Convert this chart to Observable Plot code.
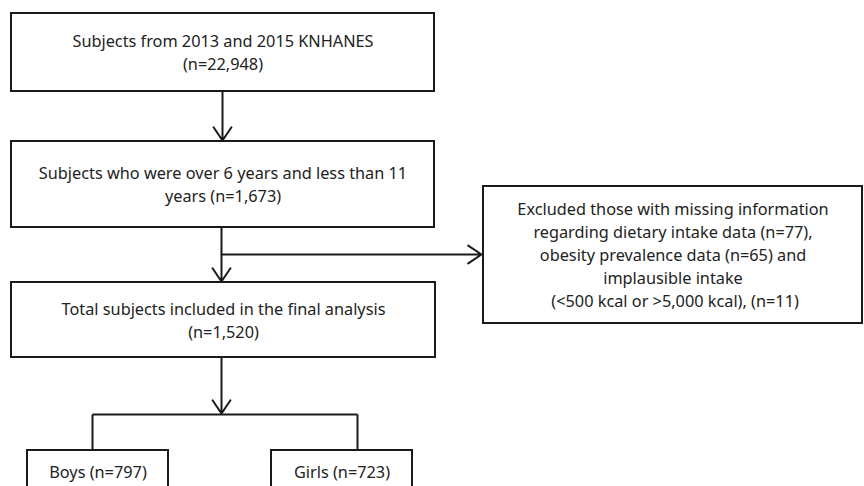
<!DOCTYPE html>
<html>
<head>
<meta charset="utf-8">
<script src="https://cdn.jsdelivr.net/npm/d3@7"></script>
<script src="https://cdn.jsdelivr.net/npm/@observablehq/plot@0.6"></script>
<style>
  html, body { margin: 0; padding: 0; background: #fff; }
  svg { display: block; }
</style>
</head>
<body>
<div id="chart"></div>
<script>
// Flowchart boxes (label lines and box extents in pixel space)
const boxNames = ["source", "age", "final", "excluded", "boys", "girls"];
const boxLabels = [
  ["Subjects from 2013 and 2015 KNHANES", "(n=22,948)"],
  ["Subjects who were over 6 years and less than 11", "years (n=1,673)"],
  ["Total subjects included in the final analysis", "(n=1,520)"],
  ["Excluded those with missing information", "regarding dietary intake data (n=77),", "obesity prevalence data (n=65) and", "implausible intake", " (<500 kcal or >5,000 kcal), (n=11)"],
  ["Boys (n=797)"],
  ["Girls (n=723)"]
];
const boxX1 = [11, 11, 11, 483, 27, 271];
const boxX2 = [434, 434, 435, 862, 168, 412];
const boxY1 = [13, 141, 282, 186, 450, 450];
const boxY2 = [91, 227, 357, 323, 500, 500];

// Connectors
const arrowsFrom = [[222, 91], [221, 227], [221, 254], [221, 357]];
const arrowsTo   = [[222, 140], [221, 281], [481, 254], [221, 413]];
const linesFrom  = [[92, 414], [92, 414], [357, 414]];
const linesTo    = [[357, 414], [92, 450], [357, 450]];

const boxes = boxNames.map((name, i) => ({
  name, x1: boxX1[i], x2: boxX2[i], y1: boxY1[i], y2: boxY2[i], lines: boxLabels[i]
}));

const lineH = 23;
const textRows = boxes.flatMap(b => {
  const n = b.lines.length;
  const cy = b.name === "boys" || b.name === "girls" ? 472 : (b.y1 + b.y2) / 2 + 1;
  return b.lines.map((t, j) => ({ text: t, x: (b.x1 + b.x2) / 2, y: cy + (j - (n - 1) / 2) * lineH }));
});

const arrows = arrowsFrom.map((f, i) => ({ x1: f[0], y1: f[1], x2: arrowsTo[i][0], y2: arrowsTo[i][1] }));
const lines = linesFrom.map((f, i) => ({ x1: f[0], y1: f[1], x2: linesTo[i][0], y2: linesTo[i][1] }));

const chart = Plot.plot({
  width: 864,
  height: 486,
  margin: 0,
  x: { domain: [0, 864], axis: null },
  y: { domain: [0, 486], axis: null, reverse: true },
  style: { fontFamily: "'Noto Sans', sans-serif", background: "#fff" },
  marks: [
    Plot.rect(boxes, { x1: "x1", x2: "x2", y1: "y1", y2: "y2", fill: "#fff", stroke: "#1a1a1a", strokeWidth: 2 }),
    Plot.link(lines, { x1: "x1", y1: "y1", x2: "x2", y2: "y2", stroke: "#1a1a1a", strokeWidth: 2 }),
    Plot.arrow(arrows, { x1: "x1", y1: "y1", x2: "x2", y2: "y2", stroke: "#1a1a1a", strokeWidth: 2, headLength: 12, headAngle: 68, inset: 0 }),
    Plot.text(textRows, { x: "x", y: "y", text: "text", fontSize: 16.3, fill: "#222", textAnchor: "middle", lineAnchor: "middle" })
  ]
});
document.getElementById("chart").appendChild(chart);
</script>
</body>
</html>
